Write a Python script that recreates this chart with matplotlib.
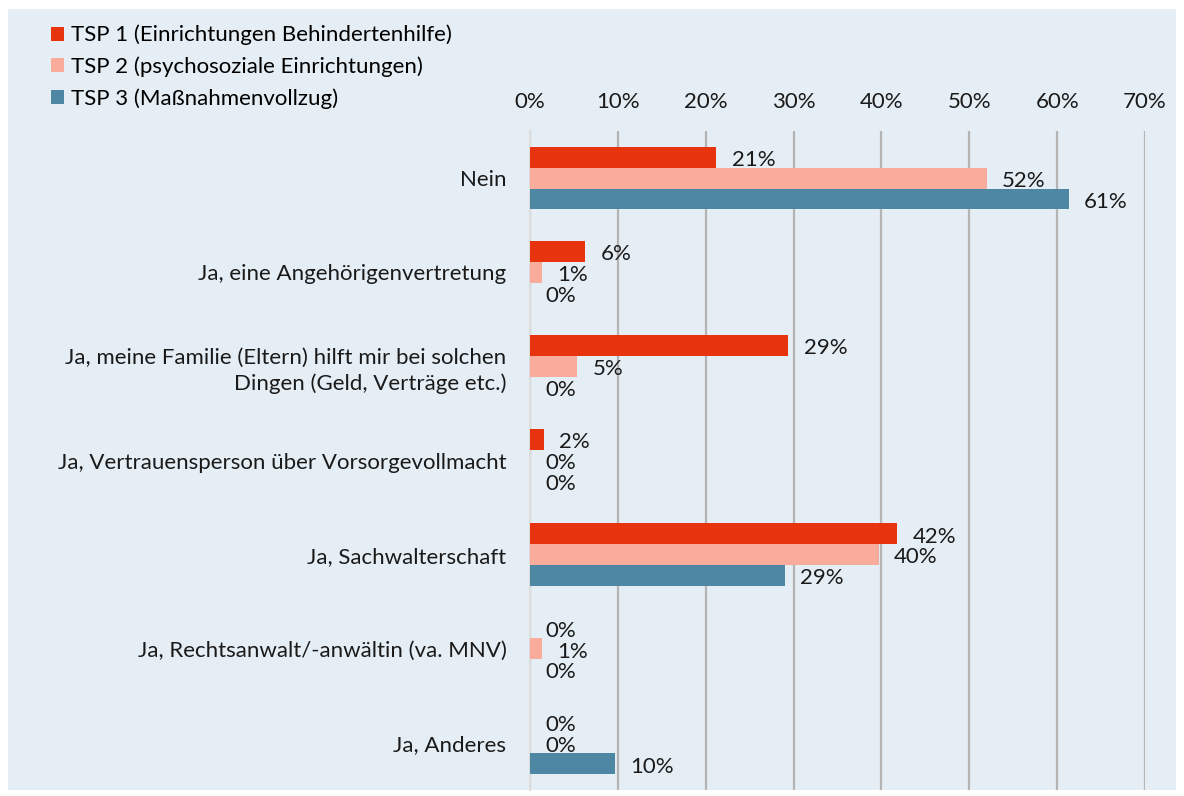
import numpy as np
import matplotlib
matplotlib.use("Agg")
import matplotlib.pyplot as plt
from matplotlib.patches import Rectangle

plt.rcParams['font.family'] = ['Lato', 'DejaVu Sans']

kategorien = ["Nein",
              "Ja, eine Angehörigenvertretung",
              "Ja, meine Familie (Eltern) hilft mir bei solchen\nDingen (Geld, Verträge etc.)",
              "Ja, Vertrauensperson über Vorsorgevollmacht",
              "Ja, Sachwalterschaft",
              "Ja, Rechtsanwalt/-anwältin (va. MNV)",
              "Ja, Anderes"]
serien = ["TSP 1 (Einrichtungen Behindertenhilfe)",
          "TSP 2 (psychosoziale Einrichtungen)",
          "TSP 3 (Maßnahmenvollzug)"]
tsp1 = [21.2, 6.3, 29.4, 1.6, 41.8, 0.0, 0.0]
tsp2 = [52.0, 1.4, 5.4, 0.0, 39.7, 1.4, 0.0]
tsp3 = [61.3, 0.0, 0.0, 0.0, 29.0, 0.0, 9.7]
farben = ["#e8330f", "#f9ab9c", "#4e87a3"]
xticks = [0, 10, 20, 30, 40, 50, 60, 70]
fs = 16

fig = plt.figure(figsize=(11.84, 7.96), dpi=100)
fig.patch.set_facecolor("white")
# hellblaues Panel
fig.patches.append(Rectangle((8/1184, 6/796), 1168/1184, 781/796, transform=fig.transFigure,
                             facecolor="#e5eef4", edgecolor="none", zorder=-10))

ax = fig.add_axes([530/1184, 1-790/796, 615/1184, 659/796])
ax.set_facecolor("none")

y = np.arange(len(kategorien))
h = 0.222
werte = [tsp1, tsp2, tsp3]
for k in range(3):
    pos = y + (k-1)*h
    ax.barh(pos, werte[k], height=h, color=farben[k], label=serien[k], zorder=3)
    for p, v in zip(pos, werte[k]):
        ax.annotate("%d%%" % round(v), (v, p), xytext=(11, -2), textcoords="offset points",
                    ha="left", va="center", fontsize=fs, color="#1a1a1a", zorder=4)

ax.set_xlim(0, 70)
ax.set_ylim(len(kategorien)-0.5, -0.5)
ax.set_xticks(xticks)
ax.set_xticklabels(["%d%%" % t for t in xticks])
ax.xaxis.tick_top()
ax.tick_params(axis="x", length=0, pad=14, labelsize=fs, colors="#1a1a1a")
ax.set_yticks(y)
ax.set_yticklabels(kategorien, fontsize=fs, color="#1a1a1a", linespacing=1.35)
ax.tick_params(axis="y", length=0, pad=17)
for lab in ax.get_yticklabels():
    lab.set_multialignment("right")
ax.grid(axis="x", color="#b4b4b4", linewidth=1.6, zorder=1)
for s in ["top", "right", "bottom"]:
    ax.spines[s].set_visible(False)
ax.spines["left"].set_color("#dcdcdc")
ax.spines["left"].set_linewidth(1.5)

fig.legend(loc="upper left", bbox_to_anchor=(42/1184, 1-16/796), frameon=False,
           fontsize=fs, handlelength=0.6, handleheight=0.6, handletextpad=0.3,
           labelspacing=0.5, borderaxespad=0)

fig.savefig("out.png", dpi=100)
